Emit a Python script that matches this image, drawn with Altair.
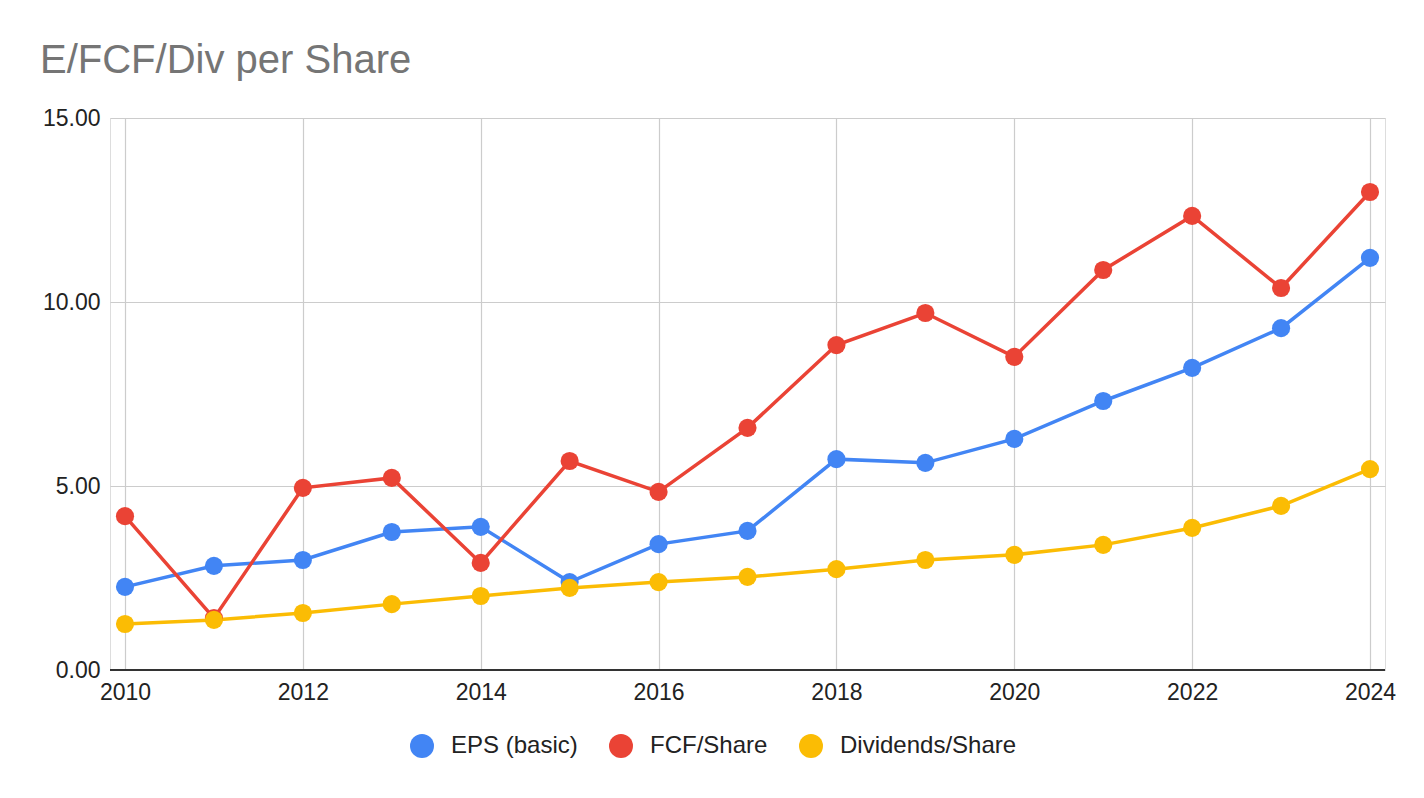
import altair as alt
import pandas as pd

years = list(range(2010, 2025))
eps = [2.26, 2.83, 2.99, 3.75, 3.89, 2.39, 3.42, 3.78, 5.73, 5.63, 6.28, 7.31, 8.21, 9.29, 11.20]
fcf = [4.18, 1.41, 4.95, 5.22, 2.91, 5.68, 4.84, 6.58, 8.83, 9.70, 8.51, 10.87, 12.34, 10.38, 12.99]
div = [1.25, 1.36, 1.55, 1.79, 2.01, 2.23, 2.39, 2.53, 2.74, 2.99, 3.13, 3.40, 3.86, 4.46, 5.46]

series_names = ["EPS (basic)", "FCF/Share", "Dividends/Share"]
series_colors = ["#4285F4", "#EA4335", "#FBBC04"]

rows = []
for i, (name, vals) in enumerate(zip(series_names, [eps, fcf, div])):
    for y, v in zip(years, vals):
        rows.append({"Year": y, "Value": v, "Series": name, "order": i})
df = pd.DataFrame(rows)

FONT = "Liberation Sans"
W, H = 1275, 552
pad_px = 15
ppy = (W - 2 * pad_px) / 14.0
x_dom = [2010 - pad_px / ppy, 2024 + pad_px / ppy]

x = alt.X("Year:Q",
          scale=alt.Scale(domain=x_dom, nice=False, zero=False),
          axis=alt.Axis(values=list(range(2010, 2025, 2)), format="d", title=None,
                        grid=True, gridColor="#cccccc", gridWidth=1.2,
                        domain=False, ticks=False, labelPadding=11,
                        labelFontSize=23, labelColor="#222222", labelFont=FONT))
y = alt.Y("Value:Q",
          scale=alt.Scale(domain=[0, 15], nice=False),
          axis=alt.Axis(values=[0, 5, 10, 15], format=".2f", title=None,
                        grid=True, gridColor="#cccccc", gridWidth=1.2,
                        domain=False, ticks=False, labelPadding=10,
                        labelFontSize=23, labelColor="#222222", labelFont=FONT))
color = alt.Color("Series:N",
                  scale=alt.Scale(domain=series_names, range=series_colors),
                  sort=series_names,
                  legend=alt.Legend(title=None, orient="none", direction="horizontal",
                                    legendX=300, legendY=616,
                                    symbolType="circle", symbolSize=576,
                                    symbolStrokeWidth=0, symbolOpacity=1,
                                    labelFontSize=24, labelFont=FONT, labelLimit=1000,
                                    labelColor="#222222", columnPadding=31,
                                    labelOffset=17))

base = alt.Chart(df)

lines = base.mark_line(strokeWidth=3.5).encode(
    x=x, y=y, color=color, order=alt.Order("Year:Q"), detail="Series:N")
points = base.mark_circle(size=330, opacity=1).encode(
    x=x, y=y, color=color, order=alt.Order("order:Q"))

zero_line = alt.Chart(pd.DataFrame({"v": [0]})).mark_rule(
    color="#333333", strokeWidth=2).encode(y=alt.Y("v:Q", scale=alt.Scale(domain=[0, 15], nice=False)),
                                          x=alt.value(0), x2=alt.value(W))

chart = alt.layer(lines, zero_line, points).properties(
    width=W, height=H,
    title=alt.TitleParams("E/FCF/Div per Share", anchor="start", fontSize=40,
                          font=FONT, fontWeight="normal", color="#757575",
                          frame="group", dx=-70, dy=52, offset=46, baseline="alphabetic"),
    autosize=alt.AutoSizeParams(type="none"),
    padding={"left": 102, "top": 110, "right": 31, "bottom": 120},
).configure_view(stroke=None).configure(background="white")

chart.save("out.html", embed_options={"renderer": "svg", "actions": False})
